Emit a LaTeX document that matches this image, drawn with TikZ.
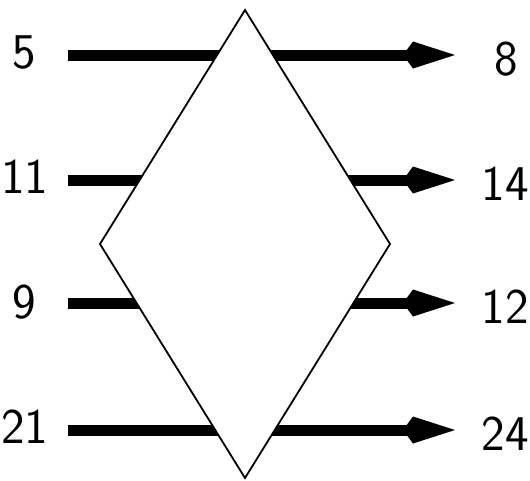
\documentclass[tikz,border=0pt]{standalone}
\usetikzlibrary{arrows.meta}
\begin{document}
\begin{tikzpicture}[x=1pt,y=-1pt,
  lbl/.style={font=\sffamily\fontsize{50}{50}\selectfont, inner sep=0pt, text=black},
  flow/.style={line width=11pt, -{Kite[length=52pt,width=27pt,inset=10pt]}}]
\useasboundingbox (0,0) rectangle (530,480);
% connector end points
\coordinate (s1) at (68,55);  \coordinate (e1) at (455,55);
\coordinate (s2) at (68,180); \coordinate (e2) at (455,180);
\coordinate (s3) at (68,303); \coordinate (e3) at (455,303);
\coordinate (s4) at (68,430); \coordinate (e4) at (455,430);
\draw[flow] (s1) -- (e1);
\draw[flow] (s2) -- (e2);
\draw[flow] (s3) -- (e3);
\draw[flow] (s4) -- (e4);
% diamond
\draw[fill=white, line width=1.8pt, line join=miter] (245,10) -- (390,244) -- (245,478) -- (100,244) -- cycle;
% labels
\node[lbl] (l1) at (24,52) {5};
\node[lbl] (l2) at (25,177) {11};
\node[lbl] (l3) at (24,302) {9};
\node[lbl] (l4) at (25,427) {21};
\node[lbl] (r1) at (506,59) {8};
\node[lbl] (r2) at (505,184) {14};
\node[lbl] (r3) at (505,307) {12};
\node[lbl] (r4) at (505,434) {24};
\end{tikzpicture}
\end{document}
